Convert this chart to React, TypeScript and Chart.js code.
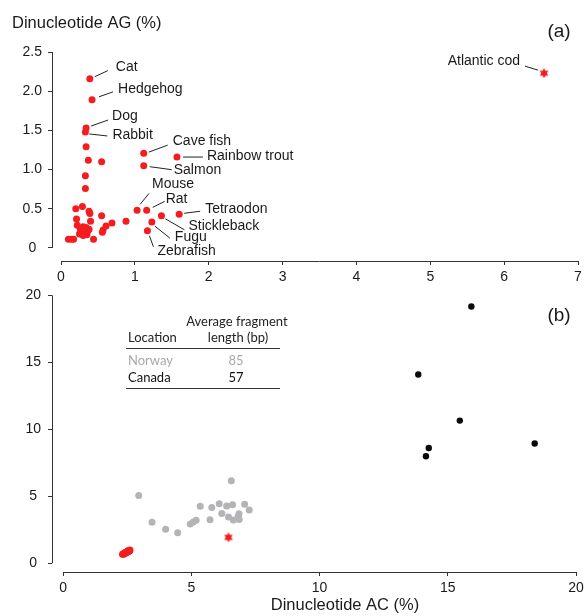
import React, { useEffect, useRef } from 'react';
import { Chart, registerables } from 'chart.js';

Chart.register(...registerables);

// ---------------- Panel (a) data ----------------
const labeledNames = ['Cat', 'Hedgehog', 'Dog', 'Rabbit', 'Cave fish', 'Rainbow trout', 'Salmon', 'Mouse', 'Rat', 'Tetraodon', 'Stickleback', 'Fugu', 'Zebrafish'];
const labeledAC = [0.39, 0.42, 0.34, 0.33, 1.12, 1.57, 1.12, 1.03, 1.16, 1.6, 1.36, 1.23, 1.17];
const labeledAG = [2.16, 1.89, 1.53, 1.48, 1.21, 1.16, 1.05, 0.48, 0.48, 0.43, 0.41, 0.33, 0.22];

const otherAC = [0.34, 0.37, 0.55, 0.33, 0.33, 0.2, 0.29, 0.38, 0.39, 0.55, 0.21, 0.4, 0.22, 0.69, 0.61, 0.57, 0.56, 0.88, 0.26, 0.3, 0.34, 0.28, 0.32, 0.36, 0.25, 0.3, 0.35, 0.27, 0.38, 0.1, 0.14, 0.17, 0.44];
const otherAG = [1.29, 1.12, 1.1, 0.92, 0.76, 0.5, 0.53, 0.47, 0.44, 0.41, 0.37, 0.34, 0.29, 0.32, 0.28, 0.23, 0.2, 0.34, 0.25, 0.27, 0.26, 0.2, 0.19, 0.21, 0.18, 0.16, 0.17, 0.22, 0.24, 0.11, 0.11, 0.11, 0.11];

const codName = 'Atlantic cod';
const codAC = [6.54];
const codAG = [2.23];

const aXTicks = [0, 1, 2, 3, 4, 5, 6, 7];
const aYTicks = [0, 0.5, 1, 1.5, 2, 2.5];

// ---------------- Panel (b) data ----------------
const norwayAC = [2.95, 3.47, 4.0, 4.47, 4.96, 5.08, 5.19, 5.35, 5.73, 5.8, 6.09, 6.19, 6.38, 6.56, 6.61, 6.45, 6.64, 6.83, 6.87, 7.08, 7.26, 6.86];
const norwayAG = [5.05, 3.05, 2.54, 2.27, 2.93, 3.08, 3.2, 4.25, 3.25, 4.15, 4.44, 3.71, 4.27, 6.15, 4.37, 3.44, 3.22, 3.49, 3.27, 4.4, 3.98, 3.7];

const canadaAC = [15.92, 13.85, 15.47, 14.26, 14.15, 18.39];
const canadaAG = [19.17, 14.09, 10.65, 8.6, 7.99, 8.94];

const speciesBAC = [2.32, 2.35, 2.38, 2.4, 2.43, 2.45, 2.48, 2.5, 2.53, 2.55, 2.58, 2.61, 2.36, 2.41, 2.47, 2.52, 2.57, 2.6];
const speciesBAG = [0.66, 0.7, 0.72, 0.76, 0.78, 0.81, 0.84, 0.86, 0.9, 0.92, 0.95, 0.99, 0.66, 0.72, 0.78, 0.84, 0.89, 0.93];

const codBAC = [6.45];
const codBAG = [1.93];

const bTicks = [0, 5, 10, 15, 20];

const tableHeader = ['Location', 'Average fragment', 'length (bp)'];
const tableLocations = ['Norway', 'Canada'];
const tableLengths = ['85', '57'];

// ---------------- styles ----------------
const FONT = "'Liberation Sans', Arial, Helvetica, sans-serif";
const TABLE_FONT = "Lato, 'Open Sans', sans-serif";
const RED = 'rgb(245,28,32)';
const GREY = 'rgb(180,180,184)';
const BLACK = '#0a0a0a';
const AXIS = '#333333';
const TEXT = '#1a1a1a';

// leader-line and label offsets (pixels, relative to the point)
const labelOffsets = [
  { s: [5, -2], e: [18, -8], t: [26, -12] },
  { s: [7, -3], e: [21, -8], t: [26, -11] },
  { s: [5, -2], e: [22, -8], t: [26, -12] },
  { s: [4, 2], e: [22, 4], t: [27, 3] },
  { s: [5, -1], e: [24, -8], t: [29, -12] },
  { s: [6, 0], e: [26, 0], t: [30, -1] },
  { s: [6, 1], e: [28, 4], t: [30, 4] },
  { s: [3, -6], e: [12, -17], t: [15, -26] },
  { s: [6, -3], e: [18, -9], t: [19, -11] },
  { s: [5, -1], e: [21, -3], t: [26, -5] },
  { s: [4, 3], e: [23, 14], t: [27, 10] },
  { s: [3, 4], e: [18, 16], t: [23, 15] },
  { s: [2, 5], e: [6, 16], t: [10, 20] },
];
const codOffset = { s: [-6, -3], e: [-19, -7], t: [-24, -12] };

function makeStar(R: number, color: string) {
  const c = document.createElement('canvas');
  const s = Math.ceil(R * 2 + 2);
  c.width = s;
  c.height = s;
  const ctx = c.getContext('2d')!;
  ctx.fillStyle = color;
  ctx.beginPath();
  const n = 6;
  for (let i = 0; i < 2 * n; i++) {
    const a = -Math.PI / 2 + (i * Math.PI) / n;
    const r = i % 2 === 0 ? R : R * 0.55;
    ctx.lineTo(s / 2 + r * Math.cos(a), s / 2 + r * Math.sin(a));
  }
  ctx.closePath();
  ctx.fill();
  return c;
}

function pts(xs: number[], ys: number[]) {
  return xs.map((x, i) => ({ x, y: ys[i] }));
}

function drawAxisLines(chart: any, xTicks: number[], yTicks: number[]) {
  const { ctx, chartArea } = chart;
  const xs = chart.scales.x;
  const ys = chart.scales.y;
  ctx.save();
  ctx.strokeStyle = AXIS;
  ctx.lineWidth = 1;
  const lx = Math.round(chartArea.left - 0.5) + 0.5;
  const by = Math.round(chartArea.bottom - 0.5) + 0.5;
  ctx.beginPath();
  ctx.moveTo(lx, ys.getPixelForValue(yTicks[0]));
  ctx.lineTo(lx, ys.getPixelForValue(yTicks[yTicks.length - 1]));
  ctx.moveTo(xs.getPixelForValue(xTicks[0]), by);
  ctx.lineTo(xs.getPixelForValue(xTicks[xTicks.length - 1]), by);
  ctx.stroke();
  ctx.restore();
}

function drawLabel(ctx: any, px: number, py: number, off: any, text: string, align: string) {
  ctx.beginPath();
  ctx.moveTo(px + off.s[0], py + off.s[1]);
  ctx.lineTo(px + off.e[0], py + off.e[1]);
  ctx.stroke();
  ctx.textAlign = align;
  ctx.fillText(text, px + off.t[0], py + off.t[1]);
}

const decorA = {
  id: 'decorA',
  afterDraw(chart: any) {
    drawAxisLines(chart, aXTicks, aYTicks);
    const { ctx } = chart;
    const xs = chart.scales.x;
    const ys = chart.scales.y;
    ctx.save();
    ctx.strokeStyle = '#222';
    ctx.lineWidth = 1;
    ctx.fillStyle = TEXT;
    ctx.font = `14px ${FONT}`;
    ctx.textBaseline = 'middle';
    labeledNames.forEach((name, i) => {
      drawLabel(ctx, xs.getPixelForValue(labeledAC[i]), ys.getPixelForValue(labeledAG[i]), labelOffsets[i], name, 'left');
    });
    drawLabel(ctx, xs.getPixelForValue(codAC[0]), ys.getPixelForValue(codAG[0]), codOffset, codName, 'right');
    ctx.textAlign = 'left';
    ctx.font = `16.5px ${FONT}`;
    ctx.fillText('Dinucleotide AG (%)', 12, 23);
    ctx.textAlign = 'center';
    ctx.font = `19px ${FONT}`;
    ctx.fillText('(a)', 559, 32);
    ctx.restore();
  },
};

const decorB = {
  id: 'decorB',
  afterDraw(chart: any) {
    drawAxisLines(chart, bTicks, bTicks);
    const { ctx } = chart;
    ctx.save();
    ctx.textBaseline = 'middle';
    ctx.fillStyle = TEXT;
    ctx.textAlign = 'center';
    ctx.font = `16.5px ${FONT}`;
    ctx.fillText('Dinucleotide AC (%)', 345, 325);
    ctx.font = `19px ${FONT}`;
    ctx.fillText('(b)', 559, 36);

    // inset table
    ctx.font = `13px ${TABLE_FONT}`;
    ctx.fillStyle = '#222';
    ctx.textAlign = 'center';
    ctx.fillText(tableHeader[1], 237, 42);
    ctx.fillText(tableHeader[2], 238, 58);
    ctx.textAlign = 'left';
    ctx.fillText(tableHeader[0], 128, 58);
    const rowColors = ['#a8a8a8', '#111'];
    const rowY = [81, 98];
    tableLocations.forEach((loc, i) => {
      ctx.fillStyle = rowColors[i];
      ctx.textAlign = 'left';
      ctx.fillText(loc, 128, rowY[i]);
      ctx.textAlign = 'center';
      ctx.fillText(tableLengths[i], 236, rowY[i]);
    });
    ctx.strokeStyle = '#333';
    ctx.lineWidth = 1;
    ctx.beginPath();
    ctx.moveTo(126, 68.5);
    ctx.lineTo(280, 68.5);
    ctx.moveTo(126, 108.5);
    ctx.lineTo(280, 108.5);
    ctx.stroke();
    ctx.restore();
  },
};

function scaleOpts(ticks: number[], min: number, max: number, fmt: (v: number) => string, isY: boolean, size: number, pad: number) {
  return {
    type: 'linear',
    min,
    max,
    afterBuildTicks: (scale: any) => {
      scale.ticks = ticks.map((v) => ({ value: v }));
    },
    afterFit: (scale: any) => {
      if (isY) scale.width = 52;
      else scale.height = size;
    },
    border: { display: false },
    grid: { display: true, drawOnChartArea: false, drawTicks: true, tickLength: 4, color: AXIS, lineWidth: 1 },
    ticks: {
      callback: (v: number) => fmt(v),
      font: { family: FONT, size: 14 },
      color: TEXT,
      padding: pad,
      autoSkip: false,
      maxRotation: 0,
      crossAlign: isY ? 'center' : 'near',
    },
  };
}

export default function App() {
  const refA = useRef<HTMLCanvasElement>(null);
  const refB = useRef<HTMLCanvasElement>(null);

  useEffect(() => {
    const star = makeStar(5, RED);
    const common = {
      responsive: false,
      animation: false,
      events: [],
      plugins: { legend: { display: false }, tooltip: { enabled: false }, title: { display: false } },
    };
    const chartA = new Chart(refA.current!, {
      type: 'scatter',
      data: {
        datasets: [
          { data: pts(otherAC, otherAG), backgroundColor: RED, borderWidth: 0, pointRadius: 3.5 },
          { data: pts(labeledAC, labeledAG), backgroundColor: RED, borderWidth: 0, pointRadius: 3.5 },
          { data: pts(codAC, codAG), pointStyle: star, pointRadius: 5 },
        ],
      },
      options: {
        ...common,
        layout: { padding: { left: 0, top: 52, right: 10, bottom: 0 } },
        scales: {
          x: scaleOpts(aXTicks, -0.122, 7, (v) => String(v), false, 31, 4),
          y: scaleOpts(aYTicks, -0.166, 2.5, (v) => (v === 0 ? '0' : v.toFixed(1)), true, 0, 6),
        },
      } as any,
      plugins: [decorA],
    });
    const chartB = new Chart(refB.current!, {
      type: 'scatter',
      data: {
        datasets: [
          { data: pts(norwayAC, norwayAG), backgroundColor: GREY, borderWidth: 0, pointRadius: 3.5 },
          { data: pts(canadaAC, canadaAG), backgroundColor: BLACK, borderWidth: 0, pointRadius: 3.2 },
          { data: pts(speciesBAC, speciesBAG), backgroundColor: RED, borderWidth: 0, pointRadius: 3.5 },
          { data: pts(codBAC, codBAG), pointStyle: star, pointRadius: 5 },
        ],
      },
      options: {
        ...common,
        layout: { padding: { left: 0, top: 10, right: 12, bottom: 0 } },
        scales: {
          x: scaleOpts(bTicks, -0.43, 20, (v) => String(v), false, 44, 4),
          y: scaleOpts(bTicks, -0.66, 20, (v) => String(v), true, 0, 7),
        },
      } as any,
      plugins: [decorB],
    });
    return () => {
      chartA.destroy();
      chartB.destroy();
    };
  }, []);

  return (
    <div style={{ position: 'absolute', left: 0, top: 0, width: 588, height: 616, background: '#fff' }}>
      <canvas ref={refA} width={588} height={292} style={{ position: 'absolute', left: 0, top: 0, width: 588, height: 292 }} />
      <canvas ref={refB} width={588} height={336} style={{ position: 'absolute', left: 0, top: 280, width: 588, height: 336 }} />
    </div>
  );
}
